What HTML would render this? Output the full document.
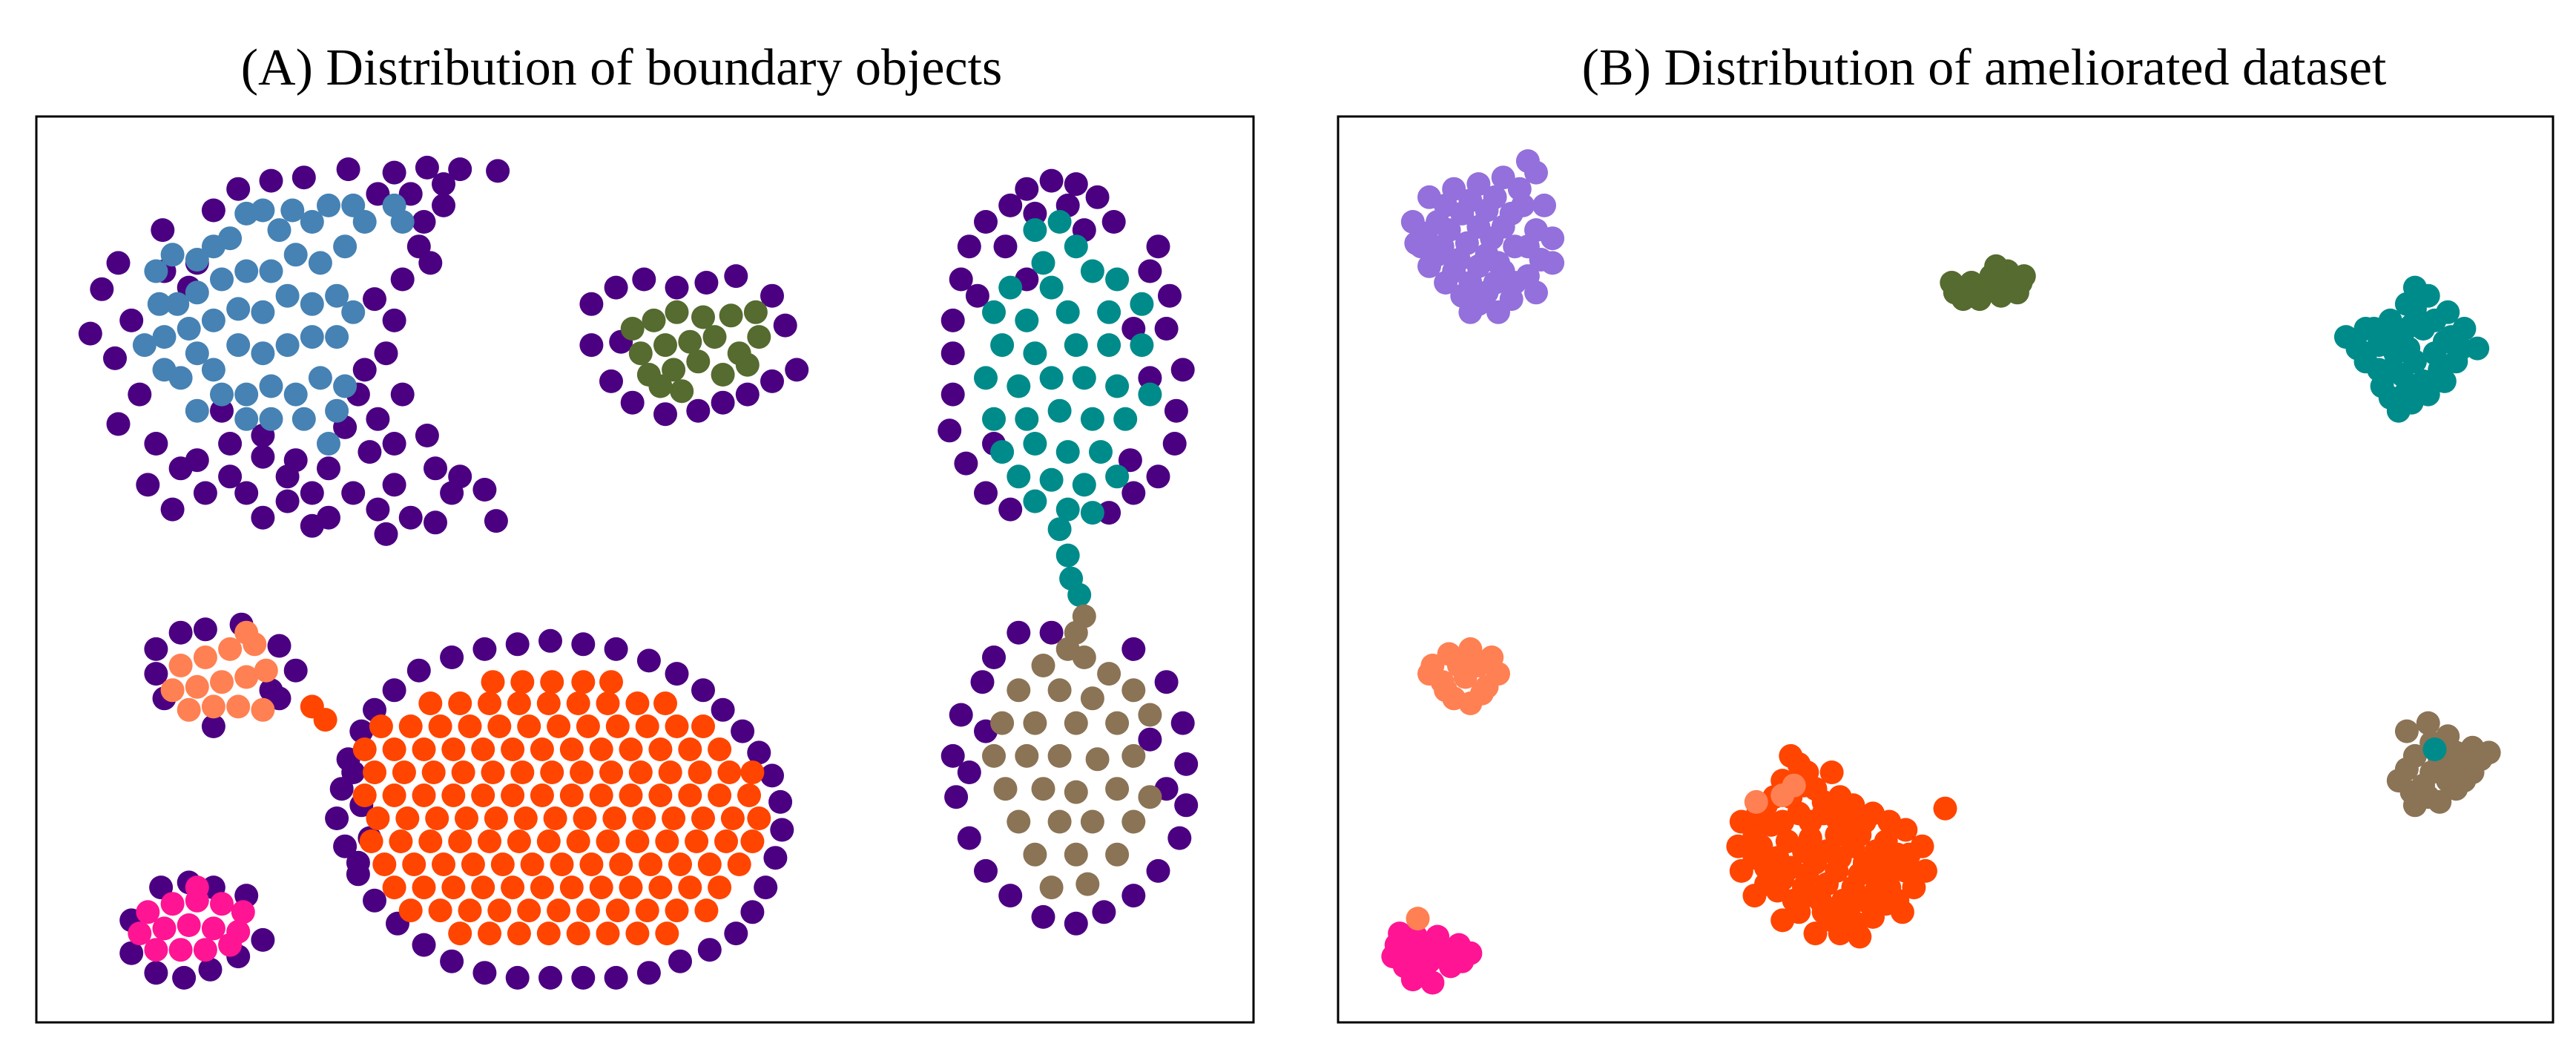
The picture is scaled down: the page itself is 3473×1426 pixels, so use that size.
<!DOCTYPE html>
<html><head><meta charset="utf-8"><style>
html,body{margin:0;padding:0;background:#fff;}
svg{display:block;}
</style></head><body>
<svg id="chart" width="3473" height="1426" viewBox="0 0 3473 1426" xmlns="http://www.w3.org/2000/svg">
<rect x="0" y="0" width="3473" height="1426" fill="#fff"/>
<text x="838" y="114" text-anchor="middle" font-family="Liberation Serif, serif" font-size="70">(A) Distribution of boundary objects</text>
<text x="2675" y="114" text-anchor="middle" font-family="Liberation Serif, serif" font-size="70">(B) Distribution of ameliorated dataset</text>
<g id="pa"></g>
<g id="pb"></g>
<rect x="49" y="157" width="1641" height="1221" fill="none" stroke="#000" stroke-width="3"/>
<rect x="1804" y="157" width="1638" height="1221" fill="none" stroke="#000" stroke-width="3"/>
</svg>
<script>
const C_PURPLE="#4B0082",C_BLUE="#4682B4",C_OLIVE="#556B2F",C_TEAL="#008B8B",C_BROWN="#8B7355",C_SALMON="#FF8052",C_ORANGE="#FF4500",C_PINK="#FF1493",C_LAV="#9370DB";

const aPurple=[[212,103],[240,105],[260,102],[280,103],[303,104],[230,118],[250,118],[270,112],[185,108],[165,110],[145,115],[130,128],[120,160],[99,140],[72,160],[62,176],[80,195],[55,203],[70,218],[85,240],[72,258],[95,270],[110,285],[90,295],[105,310],[120,280],[125,300],[140,290],[150,300],[160,315],[175,305],[190,300],[200,315],[215,300],[230,310],[240,295],[250,315],[265,285],[280,290],[295,298],[302,317],[260,265],[240,270],[225,275],[210,260],[230,255],[245,240],[222,225],[235,215],[240,195],[228,182],[245,170],[262,160],[258,135],[270,125],[255,150],[100,165],[115,175],[135,250],[140,270],[160,278],[180,280],[200,285],[218,240],[160,265],[175,290],[275,300],[190,320],[235,325],[265,318],
[360,185],[375,175],[392,170],[412,175],[430,172],[448,168],[470,180],[478,198],[485,225],[470,232],[455,240],[440,245],[425,250],[405,252],[385,245],[372,232],[360,210],[378,208],
[625,115],[640,110],[655,112],[615,125],[668,120],[600,135],[678,135],[590,150],[705,150],[585,170],[712,180],[580,195],[710,200],[580,215],[720,225],[580,240],[716,250],[578,262],[715,270],[588,282],[705,290],[600,300],[690,300],[615,310],[675,312],[595,180],[700,165],[630,130],[660,140],[612,150],[690,200],[605,270],[688,280],[650,125],[625,170],[700,230],
[620,385],[640,385],[605,400],[690,395],[598,415],[710,415],[585,435],[720,440],[580,460],[722,465],[582,485],[722,490],[590,510],[718,510],[600,530],[705,530],[615,545],[690,545],[635,558],[655,562],[672,555],[600,445],[700,450],[590,470],[710,480],
[95,395],[110,385],[125,383],[147,380],[170,393],[180,408],[165,420],[95,410],[100,425],[130,442],[170,425],
[240,420],[255,408],[275,400],[295,395],[315,392],[335,390],[355,392],[375,395],[395,402],[412,410],[428,420],[440,432],[452,445],[462,458],[470,472],[475,488],[476,505],[472,522],[466,540],[458,555],[448,568],[432,578],[414,585],[395,592],[375,595],[355,595],[335,595],[315,595],[295,592],[275,585],[258,575],[242,562],[228,548],[218,532],[210,515],[205,498],[208,480],[212,462],[220,445],[228,432],[215,470],[220,490],[225,510],[218,525],
[98,540],[115,537],[130,540],[150,545],[160,572],[145,582],[128,590],[112,595],[95,592],[80,580],[80,560]];
const aBlue=[[95,165],[105,155],[120,158],[130,150],[140,145],[150,130],[160,128],[170,140],[178,128],[190,135],[200,125],[215,125],[222,135],[240,125],[245,135],[210,150],[195,160],[180,155],[165,165],[150,165],[135,170],[120,178],[108,185],[97,185],[100,205],[115,200],[130,195],[145,188],[160,190],[175,180],[190,185],[205,180],[215,190],[205,205],[190,205],[175,210],[160,215],[145,210],[130,225],[120,215],[110,230],[135,240],[150,240],[165,235],[180,240],[195,230],[210,235],[205,250],[185,255],[165,255],[150,255],[100,225],[88,210],[120,250],[200,270]];
const aOlive=[[385,200],[398,195],[412,190],[428,193],[445,192],[460,190],[390,215],[405,210],[420,208],[435,205],[450,215],[462,205],[395,228],[410,225],[425,220],[440,228],[455,222],[415,238],[402,235]];
const aTeal=[[630,140],[645,135],[635,160],[655,150],[615,175],[640,175],[665,165],[680,170],[605,190],[625,195],[650,190],[675,190],[695,185],[610,210],[630,215],[655,210],[675,210],[695,210],[600,230],[620,235],[640,230],[660,230],[680,235],[700,240],[605,255],[625,255],[645,250],[665,255],[685,255],[610,275],[630,270],[650,275],[670,275],[620,290],[640,292],[660,295],[680,290],[630,305],[650,310],[665,312],[645,322],[650,338],[652,352],[657,362]];
const aBrown=[[660,375],[655,385],[650,395],[660,400],[635,405],[675,410],[620,420],[645,420],[665,425],[690,420],[610,440],[630,440],[655,440],[680,440],[700,435],[605,460],[625,460],[645,460],[668,462],[690,460],[612,480],[635,480],[655,482],[680,480],[700,485],[620,500],[645,500],[665,500],[690,500],[630,520],[655,520],[680,520],[640,540],[662,538]];
const aSalmon=[[110,405],[125,400],[140,395],[155,392],[105,420],[120,418],[135,415],[150,412],[162,408],[130,430],[145,430],[160,432],[115,432],[150,385]];
const aOrangeRowY=[415,428,442,456,470,484,498,512,526,540,554,568];
const aOrangeRowX=[[300,318,336,355,372],[262,280,298,316,334,352,370,388,405],[232,250,268,286,304,322,340,358,376,394,412,428],[222,240,258,276,294,312,330,348,366,384,402,420,438],[228,246,264,282,300,318,336,354,372,390,408,426,444,458],[222,240,258,276,294,312,330,348,366,384,402,420,438,456],[230,248,266,284,302,320,338,356,374,392,410,428,446,462],[226,244,262,280,298,316,334,352,370,388,406,424,442,458],[234,252,270,288,306,324,342,360,378,396,414,432,450],[240,258,276,294,312,330,348,366,384,402,420,438],[250,268,286,304,322,340,358,376,394,412,430],[280,298,316,334,352,370,388,406]];
const aOrangeExtra=[[190,430],[198,438]];
const aPink=[[90,555],[105,550],[120,548],[135,550],[148,555],[85,568],[100,565],[115,563],[130,565],[145,567],[95,578],[110,578],[125,578],[140,575],[120,540]];

const bLav=[[870,120],[885,115],[900,112],[915,108],[930,98],[925,115],[940,125],[945,145],[935,140],[920,130],[905,128],[890,130],[875,135],[862,148],[878,150],[893,148],[908,145],[922,150],[938,158],[870,162],[885,165],[900,162],[915,165],[930,168],[890,180],[905,178],[920,182],[895,190],[882,140],[912,160],[860,135],[945,160],[935,105],[880,125],[895,122],[910,120],[927,125],[868,142],[900,138],[915,138],[930,150],[875,155],[888,158],[905,155],[922,172],[880,172],[895,172],[910,172],[935,178],[900,185],[912,190],[865,150]];
const bOlive=[[1190,178],[1200,172],[1212,168],[1222,165],[1230,172],[1205,182],[1218,180],[1228,178],[1195,182],[1215,162],[1210,175],[1200,180],[1224,172],[1232,168],[1188,172]];
const bTeal=[[1440,200],[1455,195],[1465,185],[1470,175],[1478,180],[1490,190],[1500,200],[1508,212],[1428,205],[1448,210],[1462,205],[1475,200],[1488,208],[1495,220],[1440,220],[1455,225],[1470,220],[1485,225],[1450,235],[1465,238],[1478,240],[1460,250],[1472,195],[1458,215],[1435,212],[1445,200],[1468,198],[1482,195],[1492,205],[1448,225],[1462,228],[1475,232],[1488,232],[1468,245],[1455,242],[1482,215],[1466,212],[1452,208],[1498,212],[1470,188]];
const bSalmon=[[872,405],[882,398],[895,395],[908,400],[912,410],[878,415],[892,412],[905,418],[885,425],[895,428],[870,410],[888,405],[900,405],[902,422],[880,420]];
const bBrown=[[1465,445],[1478,440],[1490,448],[1505,455],[1515,458],[1470,460],[1485,462],[1500,465],[1460,475],[1475,478],[1490,475],[1505,470],[1470,490],[1485,488],[1495,480],[1480,452],[1495,458],[1465,468],[1480,470],[1500,475],[1478,485],[1510,462],[1468,482],[1488,468]];
const bOrange=[[1090,460],[1100,470],[1085,475],[1105,480],[1120,485],[1075,490],[1060,500],[1078,502],[1095,495],[1110,495],[1128,490],[1140,495],[1150,500],[1160,505],[1170,515],[1058,515],[1072,515],[1088,512],[1102,510],[1118,508],[1132,508],[1148,512],[1162,520],[1172,530],[1060,530],[1075,528],[1090,528],[1105,525],[1120,522],[1135,525],[1150,528],[1165,540],[1068,545],[1082,542],[1098,540],[1112,538],[1128,540],[1142,542],[1155,548],[1095,555],[1110,555],[1125,555],[1140,558],[1158,555],[1105,568],[1120,568],[1132,570],[1085,560],[1184,492],[1095,465],[1080,485],[1115,470],[1125,500],[1140,530],[1100,545],[1090,485],[1110,488],[1068,508],[1082,522],[1098,518],[1112,518],[1128,515],[1142,518],[1155,520],[1068,522],[1085,535],[1100,532],[1118,530],[1132,532],[1148,535],[1160,530],[1075,538],[1092,548],[1108,548],[1122,548],[1135,548],[1150,540],[1115,560],[1130,562],[1148,550],[1098,478],[1118,498],[1135,500],[1102,500],[1085,500],[1070,495]];
const bPink=[[850,575],[862,570],[875,570],[888,575],[895,580],[855,588],[870,585],[883,588],[860,596],[872,598],[848,582],[858,580],[868,575],[880,580],[865,590],[890,585],[852,568]];
const bSalmonStray=[[863,559],[1069,488],[1085,484],[1092,478]];
const bTealStray=[[1482,456]];

const S=3473/1568;
function xs(v){return v*S;}
function ys(v){return v*S;}
const NS="http://www.w3.org/2000/svg";
function draw(g,pts,color,name){
  pts.forEach(p=>{
    const c=document.createElementNS(NS,"circle");
    c.setAttribute("cx",xs(p[0]).toFixed(1));
    c.setAttribute("cy",ys(p[1]).toFixed(1));
    c.setAttribute("r",16);
    c.setAttribute("fill",color);
    
    
    g.appendChild(c);
  });
}
const pa=document.getElementById("pa"),pb=document.getElementById("pb");
draw(pa,aPurple,C_PURPLE,"boundary-point");
draw(pa,aBlue,C_BLUE,"blue-class-point");
draw(pa,aOlive,C_OLIVE,"olive-class-point");
draw(pa,aTeal,C_TEAL,"teal-class-point");
draw(pa,aBrown,C_BROWN,"brown-class-point");
draw(pa,aSalmon,C_SALMON,"salmon-class-point");
const aOrange=[];
aOrangeRowY.forEach((y,i)=>aOrangeRowX[i].forEach(x=>aOrange.push([x,y])));
draw(pa,aOrange.concat(aOrangeExtra),C_ORANGE,"orange-class-point");
draw(pa,aPink,C_PINK,"pink-class-point");

draw(pb,bLav,C_LAV,"lavender-class-point");
draw(pb,bOlive,C_OLIVE,"olive-class-point");
draw(pb,bTeal,C_TEAL,"teal-class-point");
draw(pb,bSalmon,C_SALMON,"salmon-class-point");
draw(pb,bBrown,C_BROWN,"brown-class-point");
draw(pb,bOrange,C_ORANGE,"orange-class-point");
draw(pb,bPink,C_PINK,"pink-class-point");
draw(pb,bSalmonStray,C_SALMON,"salmon-stray-point");
draw(pb,bTealStray,C_TEAL,"teal-stray-point");
</script>
</body></html>
